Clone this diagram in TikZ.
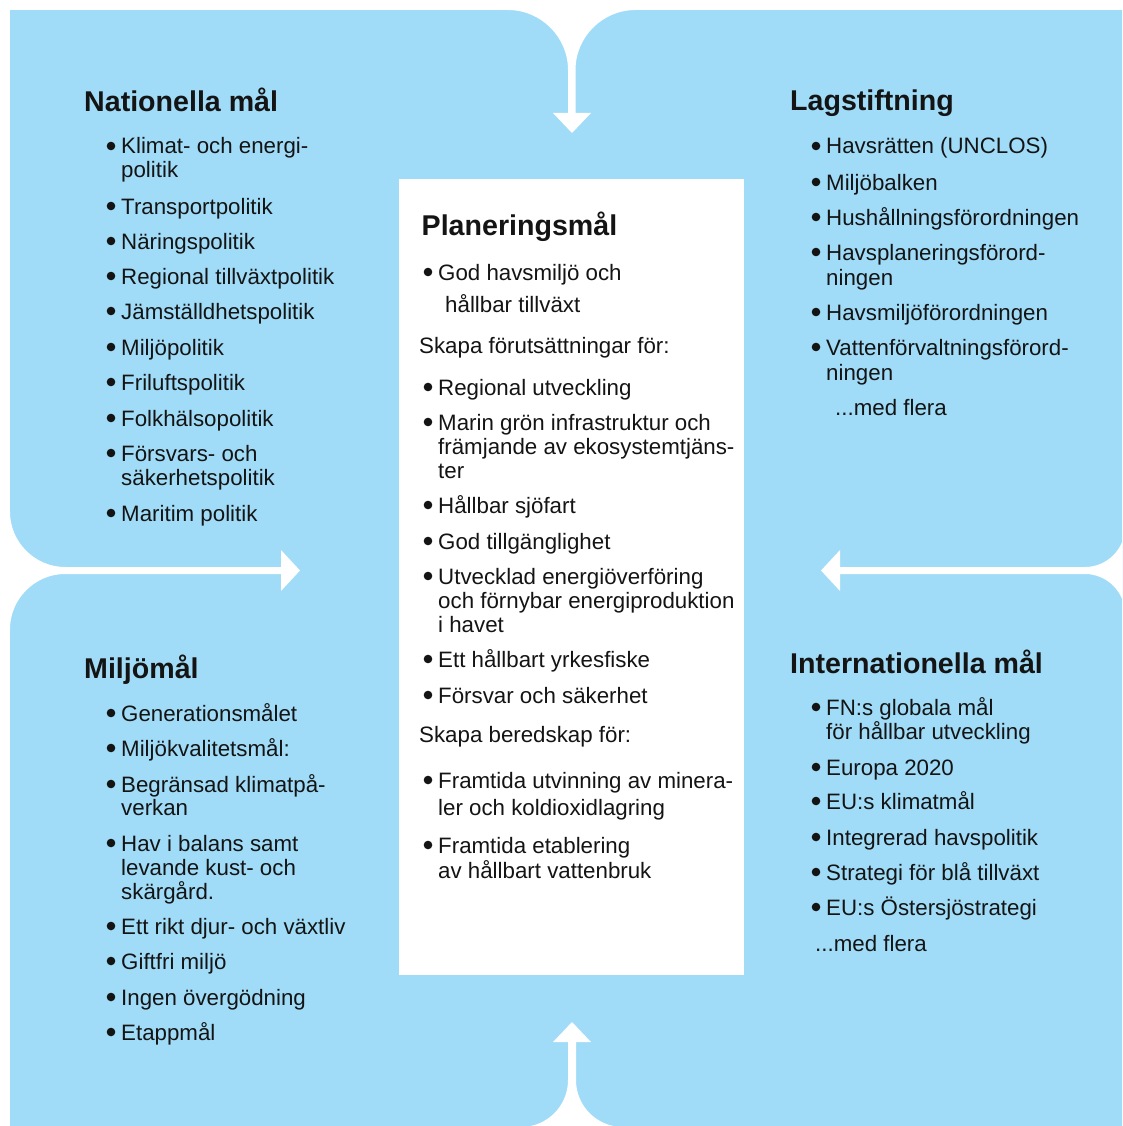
\documentclass[tikz,border=0pt]{standalone}
\usepackage{fontspec}
\setmainfont{Liberation Sans}
\definecolor{skyblue}{HTML}{A0DCF8}
\definecolor{ink}{HTML}{141414}
\tikzset{
  txt/.style={anchor=base west, inner sep=0pt, text=ink, font=\fontsize{22.3}{24}\selectfont},
  head/.style={anchor=base west, inner sep=0pt, text=ink, font=\bfseries\fontsize{28.6}{30}\selectfont},
  bul/.style={circle, fill=ink, inner sep=0pt, minimum size=8.6pt},
}
\newcommand\bitem[4]{%
  \node[bul] (#1b) at (#2-10,#3-8) {};
  \node[txt] (#1) at (#2,#3) {#4};}
\newcommand\tline[4]{\node[txt] (#1) at (#2,#3) {#4};}
\begin{document}
\begin{tikzpicture}[x=1pt,y=-1pt]
\clip (0,0) rectangle (1122,1126);
\fill[white] (0,0) rectangle (1122,1126);
% blue field
\fill[skyblue] (10,10) rectangle (1130,1130);
% top notch with down arrow
\fill[white] (508,0) -- (508,10) .. controls (541,10) and (568,37) .. (568,70)
  -- (568,113) -- (553,113) -- (572,133) -- (591,113) -- (575.5,113) -- (575.5,70)
  .. controls (575.5,37) and (602.5,10) .. (635.5,10) -- (635.5,0) -- cycle;
% left notch with right arrow
\fill[white] (0,512) -- (10,512) .. controls (10,542) and (35,567) .. (65,567)
  -- (281,567) -- (281,550) -- (300,570.5) -- (281,591) -- (281,574) -- (65,574)
  .. controls (35,574) and (10,599) .. (10,629) -- (0,629) -- cycle;
% right notch with left arrow
\fill[white] (1130,527) -- (1125,527) .. controls (1125,549) and (1107,567) .. (1085,567)
  -- (840,567) -- (840,550) -- (821,570.5) -- (840,591) -- (840,574) -- (1085,574)
  .. controls (1107,574) and (1125,592) .. (1125,614) -- (1130,614) -- cycle;
% bottom notch with up arrow
\fill[white] (521,1135) -- (521,1127) .. controls (547,1127) and (568,1106) .. (568,1080)
  -- (568,1042) -- (553,1042) -- (572,1022) -- (591,1042) -- (576,1042) -- (576,1080)
  .. controls (576,1106) and (597,1127) .. (623,1127) -- (623,1135) -- cycle;
% centre box
\fill[white] (399,179) rectangle (744,975);

% ---------- Nationella mål ----------
\node[head] (hNat) at (84,111.5) {Nationella mål};
\bitem{n1}{121}{154}{Klimat- och energi-}
\tline{n1a}{121}{178}{politik}
\bitem{n2}{121}{214}{Transportpolitik}
\bitem{n3}{121}{249}{Näringspolitik}
\bitem{n4}{121}{284}{Regional tillväxtpolitik}
\bitem{n5}{121}{319}{Jämställdhetspolitik}
\bitem{n6}{121}{355}{Miljöpolitik}
\bitem{n7}{121}{390}{Friluftspolitik}
\bitem{n8}{121}{426}{Folkhälsopolitik}
\bitem{n9}{121}{461}{Försvars- och}
\tline{n9a}{121}{485}{säkerhetspolitik}
\bitem{n10}{121}{521}{Maritim politik}

% ---------- Lagstiftning ----------
\node[head] (hLag) at (790,111) {Lagstiftning};
\bitem{l1}{826}{154}{Havsrätten (UNCLOS)}
\bitem{l2}{826}{190}{Miljöbalken}
\bitem{l3}{826}{225}{Hushållningsförordningen}
\bitem{l4}{826}{260}{Havsplaneringsförord-}
\tline{l4a}{826}{285}{ningen}
\bitem{l5}{826}{320}{Havsmiljöförordningen}
\bitem{l6}{826}{355}{Vattenförvaltningsförord-}
\tline{l6a}{826}{380}{ningen}
\tline{l7}{835}{415}{...med flera}

% ---------- Planeringsmål ----------
\node[head] (hPlan) at (421.5,235) {Planeringsmål};
\bitem{p1}{438}{280}{God havsmiljö och}
\tline{p1a}{445}{312}{hållbar tillväxt}
\tline{p2}{419}{353}{Skapa förutsättningar för:}
\bitem{p3}{438}{395}{Regional utveckling}
\bitem{p4}{438}{430}{Marin grön infrastruktur och}
\tline{p4a}{438}{454}{främjande av ekosystemtjäns-}
\tline{p4b}{438}{478}{ter}
\bitem{p5}{438}{513}{Hållbar sjöfart}
\bitem{p6}{438}{549}{God tillgänglighet}
\bitem{p7}{438}{584}{Utvecklad energiöverföring}
\tline{p7a}{438}{608}{och förnybar energiproduktion}
\tline{p7b}{438}{632}{i havet}
\bitem{p8}{438}{667}{Ett hållbart yrkesfiske}
\bitem{p9}{438}{703}{Försvar och säkerhet}
\tline{p10}{419}{742}{Skapa beredskap för:}
\bitem{p11}{438}{788}{Framtida utvinning av minera-}
\tline{p11a}{438}{815}{ler och koldioxidlagring}
\bitem{p12}{438}{853}{Framtida etablering}
\tline{p12a}{438}{878}{av hållbart vattenbruk}

% ---------- Miljömål ----------
\node[head] (hMil) at (84,678) {Miljömål};
\bitem{m1}{121}{721}{Generationsmålet}
\bitem{m2}{121}{756}{Miljökvalitetsmål:}
\bitem{m3}{121}{792}{Begränsad klimatpå-}
\tline{m3a}{121}{815}{verkan}
\bitem{m4}{121}{851}{Hav i balans samt}
\tline{m4a}{121}{875}{levande kust- och}
\tline{m4b}{121}{899}{skärgård.}
\bitem{m5}{121}{934}{Ett rikt djur- och växtliv}
\bitem{m6}{121}{969}{Giftfri miljö}
\bitem{m7}{121}{1005}{Ingen övergödning}
\bitem{m8}{121}{1040}{Etappmål}

% ---------- Internationella mål ----------
\node[head] (hInt) at (790,673) {Internationella mål};
\bitem{i1}{826}{715}{FN:s globala mål}
\tline{i1a}{826}{739}{för hållbar utveckling}
\bitem{i2}{826}{775}{Europa 2020}
\bitem{i3}{826}{809}{EU:s klimatmål}
\bitem{i4}{826}{845}{Integrerad havspolitik}
\bitem{i5}{826}{880}{Strategi för blå tillväxt}
\bitem{i6}{826}{915}{EU:s Östersjöstrategi}
\tline{i7}{815}{951}{...med flera}
\end{tikzpicture}
\end{document}
